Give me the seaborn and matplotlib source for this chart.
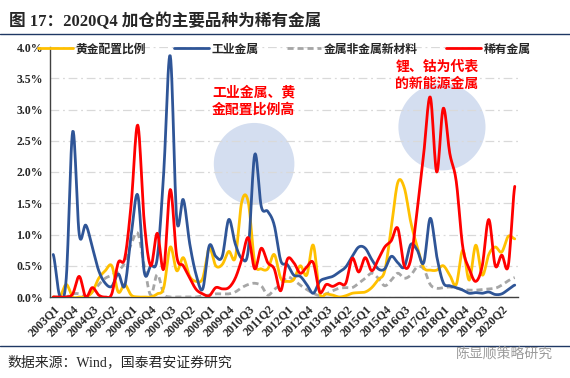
import numpy as np
import matplotlib
matplotlib.use('Agg')
import matplotlib.pyplot as plt
from matplotlib.patches import Ellipse
from matplotlib.lines import Line2D
from matplotlib.ticker import FuncFormatter
from matplotlib.font_manager import FontProperties
import seaborn as sns

# quarters 2003Q1 .. 2020Q4
quarters = [f'{y}Q{q}' for y in range(2003, 2021) for q in range(1, 5)]

# allocation ratio (%)
gold = [0.0, 0.0, 0.2, 0.0, 0.0, 0.0, 0.08, 0.3, 0.42, 0.5,
        0.08, 0.2, 0.03, 0.0, 0.0, 0.0, 0.05, 0.15, 0.8, 0.42,
        0.63, 0.33, 0.25, 0.3, 0.78, 0.5, 0.52, 0.73, 0.63, 1.52,
        1.52, 0.55, 0.45, 0.45, 0.68, 0.3, 0.25, 0.28, 0.5, 0.35,
        0.83, 0.06, 0.05, 0.03, 0.0, 0.02, 0.06, 0.07, 0.08, 0.15,
        0.28, 0.42, 1.1, 1.83, 1.75, 1.2, 0.8, 0.47, 0.43, 0.43,
        0.5, 0.35, 0.2, 0.75, 0.27, 0.83, 0.35, 0.68, 0.8, 0.72,
        0.97, 0.93]
industrial = [0.68, 0.02, 0.3, 2.65, 1.0, 1.15, 0.8, 0.42, 0.22, 0.17,
              0.37, 0.18, 1.0, 1.63, 0.4, 0.5, 0.62, 2.0, 3.86, 1.24,
              1.56, 0.85, 0.35, 0.13, 0.82, 0.65, 0.65, 1.24, 0.85, 0.62,
              0.75, 2.28, 1.45, 1.37, 1.15, 0.58, 0.52, 0.35, 0.33, 0.2,
              0.06, 0.25, 0.3, 0.33, 0.4, 0.48, 0.65, 0.8, 0.78, 0.6,
              0.45, 0.45, 0.65, 0.55, 0.48, 0.84, 0.75, 0.55, 1.26, 0.65,
              0.23, 0.18, 0.15, 0.11, 0.06, 0.07, 0.06, 0.08, 0.04, 0.05,
              0.12, 0.19]
new_material = [0.0, 0.0, 0.0, 0.05, 0.05, 0.0, 0.08, 0.2, 0.3, 0.35,
                0.42, 0.55, 0.85, 1.02, 0.5, 0.03, 0.36, 0.05, 0.0, 0.0,
                0.0, 0.0, 0.0, 0.02, 0.03, 0.05, 0.05, 0.05, 0.08, 0.15,
                0.2, 0.22, 0.18, 0.03, 0.12, 0.2, 0.32, 0.27, 0.19, 0.12,
                0.06, 0.02, 0.05, 0.1, 0.14, 0.15, 0.15, 0.22, 0.3, 0.38,
                0.3, 0.18, 0.27, 0.38, 0.3, 0.35, 0.48, 0.45, 0.2, 0.14,
                0.15, 0.16, 0.14, 0.12, 0.11, 0.11, 0.12, 0.13, 0.14, 0.19,
                0.26, 0.31]
rare = [0.0, 0.0, 0.0, 0.05, 0.33, 0.0, 0.15, 0.03, 0.0, 0.05,
        0.55, 0.62, 1.5, 2.75, 1.2, 0.5, 1.02, 0.45, 1.72, 0.65,
        0.5, 0.3, 0.12, 0.05, 0.02, 0.15, 0.13, 0.15, 0.3, 0.6,
        0.95, 0.45, 0.78, 0.55, 0.45, 0.1, 0.6, 0.55, 0.38, 0.48,
        0.55, 0.08, 0.2, 0.17, 0.22, 0.22, 0.62, 0.4, 0.63, 0.42,
        0.6, 0.8, 0.9, 1.1, 0.5, 0.6, 1.4, 2.3, 3.2, 2.0,
        3.02, 2.3, 1.85, 0.8, 0.45, 0.25, 0.5, 1.24, 0.5, 0.67,
        0.5, 1.77]


def smooth(vals, n=12):
    # Excel-like smoothed line (Catmull-Rom through the points)
    y = np.asarray(vals, float)
    p = np.concatenate([[y[0]], y, [y[-1]]])
    t = np.linspace(0, 1, n, endpoint=False)
    xs, ys = [], []
    for k in range(len(y) - 1):
        p0, p1, p2, p3 = p[k], p[k + 1], p[k + 2], p[k + 3]
        ys.append(0.5 * (2 * p1 + (-p0 + p2) * t + (2 * p0 - 5 * p1 + 4 * p2 - p3) * t ** 2
                         + (-p0 + 3 * p1 - 3 * p2 + p3) * t ** 3))
        xs.append(k + t)
    xs.append([len(y) - 1])
    ys.append([y[-1]])
    return np.concatenate(xs), np.concatenate(ys)


sns.set_style('white')
plt.rcParams['font.family'] = ['Liberation Serif', 'Noto Sans CJK SC']
plt.rcParams['axes.unicode_minus'] = False

fig = plt.figure(figsize=(5.7, 3.78), dpi=100)
ax = fig.add_axes([50 / 570, 1 - 297 / 378, 468 / 570, 250 / 378])

series = [
    ('金属非金属新材料', new_material, '#A6A6A6', True),
    ('黄金配置比例', gold, '#FFC000', False),
    ('工业金属', industrial, '#2F5597', False),
    ('稀有金属', rare, '#FF0000', False),
]
for name, vals, color, dashed in series:
    xs, ys = smooth(vals)
    sns.lineplot(x=xs, y=ys, ax=ax, color=color, lw=2.0, label=name,
                 sort=False, estimator=None, zorder=3)
    if dashed:
        ax.lines[-1].set_dashes((2.2, 1.4))

# highlight circles
ax.add_patch(Ellipse((30.9, 2.13), 12.4, 1.31, facecolor='#d4def0', edgecolor='none', zorder=0.3))
ax.add_patch(Ellipse((59.8, 2.72), 13.4, 1.39, facecolor='#d4def0', edgecolor='none', zorder=0.3))

ax.set_xlim(-0.5, 71.5)
ax.set_ylim(0, 4.0)
ax.set_yticks(np.arange(0, 4.01, 0.5))
ax.yaxis.set_major_formatter(FuncFormatter(lambda v, p: f'{v:.1f}%'))
ax.set_xticks(range(0, 72, 3))
ax.set_xticklabels(quarters[::3], rotation=45, ha='right', rotation_mode='anchor')
ax.set_xticks(np.arange(-0.5, 72, 1), minor=True)
ax.tick_params(axis='x', which='major', length=0, pad=4, labelsize=8.5)
ax.tick_params(axis='x', which='minor', length=3, width=0.8, color='#404040', direction='out')
ax.tick_params(axis='y', length=3, width=0.8, color='#404040', labelsize=8.5, pad=2)
for lab in ax.get_xticklabels() + ax.get_yticklabels():
    lab.set_fontweight('bold')

ax.set_axisbelow(True)
ax.grid(axis='y', color='#d9d9d9', lw=0.9, linestyle=(0, (7, 3, 1.5, 3)))
ax.grid(axis='x', visible=False)
for s in ['top', 'right']:
    ax.spines[s].set_visible(False)
for s in ['left', 'bottom']:
    ax.spines[s].set_color('#404040')
    ax.spines[s].set_linewidth(1.0)
ax.set_xlabel('')
ax.set_ylabel('')

handles, labels = ax.get_legend_handles_labels()
ax.get_legend().remove()
order = [labels.index(n) for n in ['黄金配置比例', '工业金属', '金属非金属新材料', '稀有金属']]
fig.legend([handles[i] for i in order], [labels[i] for i in order],
           loc='center', bbox_to_anchor=(0.499, 1 - 49 / 378), ncol=4, frameon=False,
           handlelength=2.9, handletextpad=0.25, columnspacing=2.4,
           prop=FontProperties(family='Noto Sans CJK SC', weight='bold', size=8.5))

red_font = dict(family=['Noto Sans CJK SC'], weight='bold', color='#FF0000', fontsize=10, linespacing=1.3)
fig.text(212 / 570, 1 - 101 / 378, '工业金属、黄\n金配置比例高', ha='left', va='center', **red_font)
fig.text(437 / 570, 1 - 75 / 378, '锂、钴为代表\n的新能源金属', ha='center', va='center', **red_font)

# title and frame lines
fig.text(9 / 570, 1 - 21 / 378, '图 17：2020Q4 加仓的主要品种为稀有金属',
         ha='left', va='center', fontsize=12, fontweight='bold',
         family=['Liberation Serif', 'Noto Sans CJK SC'])
fig.add_artist(Line2D([0, 1], [1 - 34 / 378] * 2, transform=fig.transFigure, color='#1F3864', lw=1.0))
fig.add_artist(Line2D([0, 1], [1 - 346 / 378] * 2, transform=fig.transFigure, color='#1F3864', lw=1.0))

fig.text(7 / 570, 1 - 362 / 378, '数据来源：Wind，国泰君安证券研究', ha='left', va='center',
         fontsize=10, family=['Liberation Serif', 'Noto Sans CJK SC'])
fig.text(553 / 570, 1 - 354 / 378, '陈显顺策略研究', ha='right', va='center',
         fontsize=10, color='#9a9a9a', family=['Noto Sans CJK SC'])

fig.savefig('out.png', dpi=100)
